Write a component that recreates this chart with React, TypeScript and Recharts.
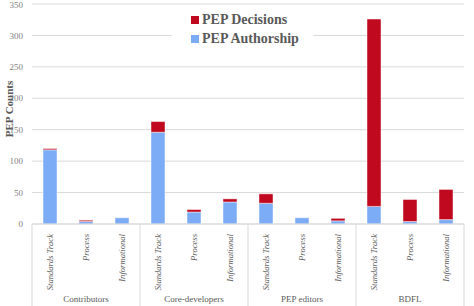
import React from 'react'
import { BarChart, Bar, XAxis, YAxis, CartesianGrid, Label } from 'recharts'

const groups = ['Contributors', 'Core-developers', 'PEP editors', 'BDFL']
const pepTypes = ['Standards Track', 'Process', 'Informational']

// PEP Authorship (blue, bottom) and PEP Decisions (red, on top), per group x type
const authorship = [118, 4, 10, 146, 19, 35, 33, 10, 5, 28, 4, 7]
const decisions = [2, 2, 0, 17, 4, 5, 15, 0, 4, 298, 35, 48]

const yTicks = [0, 50, 100, 150, 200, 250, 300, 350]

const data = authorship.map((a, i) => ({
  key: i,
  type: pepTypes[i % 3],
  group: groups[Math.floor(i / 3)],
  authorship: a,
  decisions: decisions[i],
}))

const W = 474
const H = 306
const margin = { top: 4, right: 10, bottom: 0, left: 0 }
const yAxisW = 32
const band = (W - margin.left - margin.right - yAxisW) / data.length

const font = 'Liberation Serif, DejaVu Serif, serif'
const BLUE = '#7dacf6'
const RED = '#c0091e'
const GRID = '#d9d9d9'
const TEXT = '#595959'

const TypeTick = (props: any) => {
  const { x, y, payload, index } = props
  const d = data[index]
  return (
    <g>
      <text
        x={x}
        y={y}
        transform={`rotate(-90 ${x} ${y}) translate(-2 3)`}
        textAnchor="end"
        style={{ fontFamily: font, fontStyle: 'italic', fontSize: 8.6 }}
        fill={TEXT}
      >
        {payload.value}
      </text>
      {index % 3 === 0 && (
        <line x1={x - band / 2} x2={x - band / 2} y1={y - 8} y2={H} stroke={GRID} />
      )}
      {index === data.length - 1 && (
        <line x1={x + band / 2} x2={x + band / 2} y1={y - 8} y2={H} stroke={GRID} />
      )}
      {index % 3 === 1 && (
        <text x={x} y={y + 70} textAnchor="middle" style={{ fontFamily: font, fontSize: 9 }} fill={TEXT}>
          {d.group}
        </text>
      )}
    </g>
  )
}

const legendItems = [
  { label: 'PEP Decisions', color: RED },
  { label: 'PEP Authorship', color: BLUE },
]

export default function App() {
  return (
    <div style={{ position: 'absolute', left: 0, top: 0, width: W, height: H, background: '#fff', fontFamily: font }}>
      <BarChart width={W} height={H} data={data} margin={margin} barSize={14} style={{ fontFamily: font }}>
        <CartesianGrid vertical={false} stroke={GRID} />
        <XAxis
          dataKey="type"
          interval={0}
          height={82}
          tickLine={false}
          axisLine={{ stroke: GRID }}
          tick={<TypeTick />}
        />
        <YAxis
          width={yAxisW}
          domain={[0, 350]}
          ticks={yTicks}
          axisLine={false}
          tickLine={false}
          tick={{ style: { fontFamily: font }, fontSize: 9, fill: '#7f7f7f' }}
          tickMargin={3}
        >
          <Label
            content={({ viewBox }: any) => {
              const cx = viewBox.x + 13
              const cy = viewBox.y + viewBox.height / 2 - 5
              return (
                <text
                  x={cx}
                  y={cy}
                  transform={`rotate(-90 ${cx} ${cy})`}
                  textAnchor="middle"
                  style={{ fontFamily: font, fontWeight: 'bold', fontSize: 11 }}
                  fill={TEXT}
                >
                  PEP Counts
                </text>
              )
            }}
          />
        </YAxis>
        <Bar dataKey="authorship" stackId="a" fill={BLUE} stroke="#ffffff" strokeOpacity={0.45} isAnimationActive={false} />
        <Bar dataKey="decisions" stackId="a" fill={RED} stroke="#ffffff" strokeOpacity={0.45} isAnimationActive={false} />
      </BarChart>
      <div
        style={{
          position: 'absolute',
          left: 172,
          top: 8,
          width: 122,
          background: '#fff',
          padding: '2px 0 2px 19px',
        }}
      >
        {legendItems.map((it) => (
          <div key={it.label} style={{ display: 'flex', alignItems: 'center', height: 19 }}>
            <span style={{ width: 8, height: 8, background: it.color, marginRight: 3 }} />
            <span style={{ fontFamily: font, fontWeight: 'bold', fontSize: 14, color: TEXT, lineHeight: '19px' }}>
              {it.label}
            </span>
          </div>
        ))}
      </div>
    </div>
  )
}
